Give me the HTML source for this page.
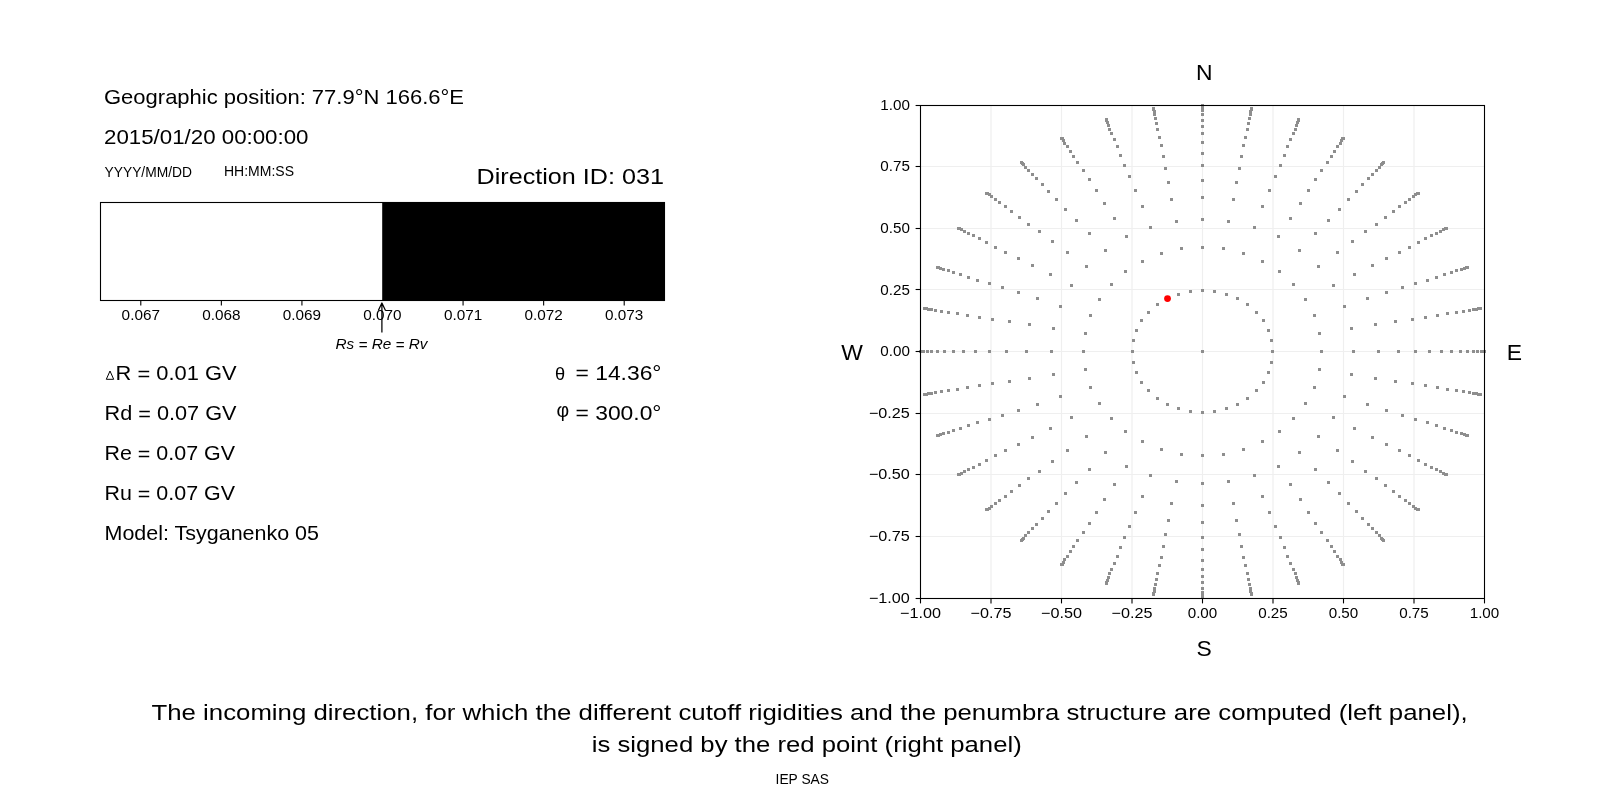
<!DOCTYPE html>
<html><head><meta charset="utf-8"><title>Direction</title>
<style>
html,body{margin:0;padding:0;background:#fff;width:1600px;height:800px;overflow:hidden}
svg{display:block;will-change:transform}
text{font-family:"Liberation Sans", sans-serif;fill:#000}
</style></head><body>
<svg width="1600" height="800" viewBox="0 0 1600 800">
<rect x="0" y="0" width="1600" height="800" fill="#fff"/>
<rect x="382.20" y="202.50" width="282.30" height="98.00" fill="#000"/>
<rect x="100.50" y="202.50" width="564.00" height="98.00" fill="none" stroke="#000" stroke-width="1.1"/>
<line x1="140.79" y1="300.50" x2="140.79" y2="305.40" stroke="#000" stroke-width="1.1"/>
<line x1="221.36" y1="300.50" x2="221.36" y2="305.40" stroke="#000" stroke-width="1.1"/>
<line x1="301.93" y1="300.50" x2="301.93" y2="305.40" stroke="#000" stroke-width="1.1"/>
<line x1="463.07" y1="300.50" x2="463.07" y2="305.40" stroke="#000" stroke-width="1.1"/>
<line x1="543.64" y1="300.50" x2="543.64" y2="305.40" stroke="#000" stroke-width="1.1"/>
<line x1="624.21" y1="300.50" x2="624.21" y2="305.40" stroke="#000" stroke-width="1.1"/>
<path d="M381.9 332.6 L381.9 303.0 M378.3 310.4 L381.9 303.0 L385.5 310.4" fill="none" stroke="#000" stroke-width="1.25" stroke-linejoin="round" stroke-linecap="butt"/>
<path d="M106.3 379.3 L110.0 371.0 L113.7 379.3 Z" fill="none" stroke="#000" stroke-width="1.0"/>
<text x="555.0" y="380.0" font-family="Liberation Serif, serif" font-size="18.2" fill="#000">θ</text>
<text x="556.5" y="416.5" font-family="Liberation Serif, serif" font-size="19.5" fill="#000">φ</text>
<line x1="991.00" y1="105.50" x2="991.00" y2="598.50" stroke="#efefef" stroke-width="1.2"/>
<line x1="920.50" y1="536.50" x2="1484.50" y2="536.50" stroke="#efefef" stroke-width="1.2"/>
<line x1="1061.50" y1="105.50" x2="1061.50" y2="598.50" stroke="#efefef" stroke-width="1.2"/>
<line x1="920.50" y1="474.50" x2="1484.50" y2="474.50" stroke="#efefef" stroke-width="1.2"/>
<line x1="1132.00" y1="105.50" x2="1132.00" y2="598.50" stroke="#efefef" stroke-width="1.2"/>
<line x1="920.50" y1="413.50" x2="1484.50" y2="413.50" stroke="#efefef" stroke-width="1.2"/>
<line x1="1202.50" y1="105.50" x2="1202.50" y2="598.50" stroke="#efefef" stroke-width="1.2"/>
<line x1="920.50" y1="351.50" x2="1484.50" y2="351.50" stroke="#efefef" stroke-width="1.2"/>
<line x1="1273.00" y1="105.50" x2="1273.00" y2="598.50" stroke="#efefef" stroke-width="1.2"/>
<line x1="920.50" y1="289.50" x2="1484.50" y2="289.50" stroke="#efefef" stroke-width="1.2"/>
<line x1="1343.50" y1="105.50" x2="1343.50" y2="598.50" stroke="#efefef" stroke-width="1.2"/>
<line x1="920.50" y1="228.50" x2="1484.50" y2="228.50" stroke="#efefef" stroke-width="1.2"/>
<line x1="1414.00" y1="105.50" x2="1414.00" y2="598.50" stroke="#efefef" stroke-width="1.2"/>
<line x1="920.50" y1="166.50" x2="1484.50" y2="166.50" stroke="#efefef" stroke-width="1.2"/>
<path d="M1201 350h3v3h-3zM1483 350h3v3h-3zM1479 307h3v3h-3zM1466 266h3v3h-3zM1445 227h3v3h-3zM1417 192h3v3h-3zM1382 161h3v3h-3zM1342 137h3v3h-3zM1297 118h3v3h-3zM1250 107h3v3h-3zM1201 104h3v3h-3zM1152 107h3v3h-3zM1105 118h3v3h-3zM1060 137h3v3h-3zM1020 161h3v3h-3zM985 192h3v3h-3zM957 227h3v3h-3zM936 266h3v3h-3zM923 307h3v3h-3zM919 350h3v3h-3zM923 393h3v3h-3zM936 434h3v3h-3zM957 473h3v3h-3zM985 508h3v3h-3zM1020 539h3v3h-3zM1060 563h3v3h-3zM1105 582h3v3h-3zM1152 593h3v3h-3zM1201 596h3v3h-3zM1250 593h3v3h-3zM1297 582h3v3h-3zM1342 563h3v3h-3zM1382 539h3v3h-3zM1417 508h3v3h-3zM1445 473h3v3h-3zM1466 434h3v3h-3zM1479 393h3v3h-3zM1482 350h3v3h-3zM1477 307h3v3h-3zM1465 266h3v3h-3zM1444 227h3v3h-3zM1416 192h3v3h-3zM1381 162h3v3h-3zM1341 137h3v3h-3zM1297 119h3v3h-3zM1250 108h3v3h-3zM1201 105h3v3h-3zM1152 108h3v3h-3zM1105 119h3v3h-3zM1061 137h3v3h-3zM1021 162h3v3h-3zM986 192h3v3h-3zM958 227h3v3h-3zM937 266h3v3h-3zM925 307h3v3h-3zM920 350h3v3h-3zM925 393h3v3h-3zM937 434h3v3h-3zM958 473h3v3h-3zM986 508h3v3h-3zM1021 538h3v3h-3zM1061 563h3v3h-3zM1105 581h3v3h-3zM1152 592h3v3h-3zM1201 595h3v3h-3zM1250 592h3v3h-3zM1297 581h3v3h-3zM1341 563h3v3h-3zM1381 538h3v3h-3zM1416 508h3v3h-3zM1444 473h3v3h-3zM1465 434h3v3h-3zM1477 393h3v3h-3zM1480 350h3v3h-3zM1475 308h3v3h-3zM1463 267h3v3h-3zM1442 228h3v3h-3zM1414 193h3v3h-3zM1380 163h3v3h-3zM1340 139h3v3h-3zM1296 121h3v3h-3zM1249 110h3v3h-3zM1201 107h3v3h-3zM1153 110h3v3h-3zM1106 121h3v3h-3zM1062 139h3v3h-3zM1022 163h3v3h-3zM988 193h3v3h-3zM960 228h3v3h-3zM939 267h3v3h-3zM927 308h3v3h-3zM922 350h3v3h-3zM927 392h3v3h-3zM939 433h3v3h-3zM960 472h3v3h-3zM988 507h3v3h-3zM1022 537h3v3h-3zM1062 561h3v3h-3zM1106 579h3v3h-3zM1153 590h3v3h-3zM1201 593h3v3h-3zM1249 590h3v3h-3zM1296 579h3v3h-3zM1340 561h3v3h-3zM1380 537h3v3h-3zM1414 507h3v3h-3zM1442 472h3v3h-3zM1463 433h3v3h-3zM1475 392h3v3h-3zM1476 350h3v3h-3zM1472 308h3v3h-3zM1460 268h3v3h-3zM1439 230h3v3h-3zM1412 195h3v3h-3zM1378 166h3v3h-3zM1339 142h3v3h-3zM1295 124h3v3h-3zM1249 113h3v3h-3zM1201 109h3v3h-3zM1153 113h3v3h-3zM1107 124h3v3h-3zM1063 142h3v3h-3zM1024 166h3v3h-3zM990 195h3v3h-3zM963 230h3v3h-3zM942 268h3v3h-3zM930 308h3v3h-3zM926 350h3v3h-3zM930 392h3v3h-3zM942 432h3v3h-3zM963 470h3v3h-3zM990 505h3v3h-3zM1024 534h3v3h-3zM1063 558h3v3h-3zM1107 576h3v3h-3zM1153 587h3v3h-3zM1201 591h3v3h-3zM1249 587h3v3h-3zM1295 576h3v3h-3zM1339 558h3v3h-3zM1378 534h3v3h-3zM1412 505h3v3h-3zM1439 470h3v3h-3zM1460 432h3v3h-3zM1472 392h3v3h-3zM1472 350h3v3h-3zM1468 309h3v3h-3zM1455 269h3v3h-3zM1435 232h3v3h-3zM1408 198h3v3h-3zM1375 169h3v3h-3zM1336 145h3v3h-3zM1294 128h3v3h-3zM1248 117h3v3h-3zM1201 113h3v3h-3zM1154 117h3v3h-3zM1108 128h3v3h-3zM1066 145h3v3h-3zM1027 169h3v3h-3zM994 198h3v3h-3zM967 232h3v3h-3zM947 269h3v3h-3zM934 309h3v3h-3zM930 350h3v3h-3zM934 391h3v3h-3zM947 431h3v3h-3zM967 468h3v3h-3zM994 502h3v3h-3zM1027 531h3v3h-3zM1066 555h3v3h-3zM1108 572h3v3h-3zM1154 583h3v3h-3zM1201 587h3v3h-3zM1248 583h3v3h-3zM1294 572h3v3h-3zM1336 555h3v3h-3zM1375 531h3v3h-3zM1408 502h3v3h-3zM1435 468h3v3h-3zM1455 431h3v3h-3zM1468 391h3v3h-3zM1466 350h3v3h-3zM1462 310h3v3h-3zM1450 271h3v3h-3zM1430 234h3v3h-3zM1404 201h3v3h-3zM1371 173h3v3h-3zM1333 150h3v3h-3zM1292 132h3v3h-3zM1247 122h3v3h-3zM1201 119h3v3h-3zM1155 122h3v3h-3zM1110 132h3v3h-3zM1069 150h3v3h-3zM1031 173h3v3h-3zM998 201h3v3h-3zM972 234h3v3h-3zM952 271h3v3h-3zM940 310h3v3h-3zM936 350h3v3h-3zM940 390h3v3h-3zM952 429h3v3h-3zM972 466h3v3h-3zM998 499h3v3h-3zM1031 527h3v3h-3zM1069 550h3v3h-3zM1110 568h3v3h-3zM1155 578h3v3h-3zM1201 581h3v3h-3zM1247 578h3v3h-3zM1292 568h3v3h-3zM1333 550h3v3h-3zM1371 527h3v3h-3zM1404 499h3v3h-3zM1430 466h3v3h-3zM1450 429h3v3h-3zM1462 390h3v3h-3zM1459 350h3v3h-3zM1455 311h3v3h-3zM1443 273h3v3h-3zM1424 237h3v3h-3zM1398 205h3v3h-3zM1367 177h3v3h-3zM1330 155h3v3h-3zM1289 138h3v3h-3zM1246 128h3v3h-3zM1201 125h3v3h-3zM1156 128h3v3h-3zM1113 138h3v3h-3zM1072 155h3v3h-3zM1035 177h3v3h-3zM1004 205h3v3h-3zM978 237h3v3h-3zM959 273h3v3h-3zM947 311h3v3h-3zM943 350h3v3h-3zM947 389h3v3h-3zM959 427h3v3h-3zM978 463h3v3h-3zM1004 495h3v3h-3zM1035 523h3v3h-3zM1072 545h3v3h-3zM1113 562h3v3h-3zM1156 572h3v3h-3zM1201 575h3v3h-3zM1246 572h3v3h-3zM1289 562h3v3h-3zM1330 545h3v3h-3zM1367 523h3v3h-3zM1398 495h3v3h-3zM1424 463h3v3h-3zM1443 427h3v3h-3zM1455 389h3v3h-3zM1450 350h3v3h-3zM1446 312h3v3h-3zM1435 276h3v3h-3zM1417 241h3v3h-3zM1392 210h3v3h-3zM1361 183h3v3h-3zM1326 161h3v3h-3zM1286 145h3v3h-3zM1244 136h3v3h-3zM1201 132h3v3h-3zM1158 136h3v3h-3zM1116 145h3v3h-3zM1076 161h3v3h-3zM1041 183h3v3h-3zM1010 210h3v3h-3zM985 241h3v3h-3zM967 276h3v3h-3zM956 312h3v3h-3zM952 350h3v3h-3zM956 388h3v3h-3zM967 424h3v3h-3zM985 459h3v3h-3zM1010 490h3v3h-3zM1041 517h3v3h-3zM1076 539h3v3h-3zM1116 555h3v3h-3zM1158 564h3v3h-3zM1201 568h3v3h-3zM1244 564h3v3h-3zM1286 555h3v3h-3zM1326 539h3v3h-3zM1361 517h3v3h-3zM1392 490h3v3h-3zM1417 459h3v3h-3zM1435 424h3v3h-3zM1446 388h3v3h-3zM1440 350h3v3h-3zM1436 314h3v3h-3zM1426 279h3v3h-3zM1408 246h3v3h-3zM1384 216h3v3h-3zM1355 190h3v3h-3zM1320 169h3v3h-3zM1283 154h3v3h-3zM1242 144h3v3h-3zM1201 141h3v3h-3zM1160 144h3v3h-3zM1119 154h3v3h-3zM1082 169h3v3h-3zM1047 190h3v3h-3zM1018 216h3v3h-3zM994 246h3v3h-3zM976 279h3v3h-3zM966 314h3v3h-3zM962 350h3v3h-3zM966 386h3v3h-3zM976 421h3v3h-3zM994 454h3v3h-3zM1018 484h3v3h-3zM1047 510h3v3h-3zM1082 531h3v3h-3zM1119 546h3v3h-3zM1160 556h3v3h-3zM1201 559h3v3h-3zM1242 556h3v3h-3zM1283 546h3v3h-3zM1320 531h3v3h-3zM1355 510h3v3h-3zM1384 484h3v3h-3zM1408 454h3v3h-3zM1426 421h3v3h-3zM1436 386h3v3h-3zM1428 350h3v3h-3zM1424 316h3v3h-3zM1414 282h3v3h-3zM1398 251h3v3h-3zM1375 223h3v3h-3zM1347 198h3v3h-3zM1314 178h3v3h-3zM1279 164h3v3h-3zM1240 155h3v3h-3zM1201 152h3v3h-3zM1162 155h3v3h-3zM1123 164h3v3h-3zM1088 178h3v3h-3zM1055 198h3v3h-3zM1027 223h3v3h-3zM1004 251h3v3h-3zM988 282h3v3h-3zM978 316h3v3h-3zM974 350h3v3h-3zM978 384h3v3h-3zM988 418h3v3h-3zM1004 449h3v3h-3zM1027 477h3v3h-3zM1055 502h3v3h-3zM1088 522h3v3h-3zM1123 536h3v3h-3zM1162 545h3v3h-3zM1201 548h3v3h-3zM1240 545h3v3h-3zM1279 536h3v3h-3zM1314 522h3v3h-3zM1347 502h3v3h-3zM1375 477h3v3h-3zM1398 449h3v3h-3zM1414 418h3v3h-3zM1424 384h3v3h-3zM1414 350h3v3h-3zM1411 318h3v3h-3zM1401 286h3v3h-3zM1385 257h3v3h-3zM1364 230h3v3h-3zM1338 208h3v3h-3zM1307 189h3v3h-3zM1274 175h3v3h-3zM1238 167h3v3h-3zM1201 164h3v3h-3zM1164 167h3v3h-3zM1128 175h3v3h-3zM1095 189h3v3h-3zM1064 208h3v3h-3zM1038 230h3v3h-3zM1017 257h3v3h-3zM1001 286h3v3h-3zM991 318h3v3h-3zM988 350h3v3h-3zM991 382h3v3h-3zM1001 414h3v3h-3zM1017 443h3v3h-3zM1038 470h3v3h-3zM1064 492h3v3h-3zM1095 511h3v3h-3zM1128 525h3v3h-3zM1164 533h3v3h-3zM1201 536h3v3h-3zM1238 533h3v3h-3zM1274 525h3v3h-3zM1307 511h3v3h-3zM1338 492h3v3h-3zM1364 470h3v3h-3zM1385 443h3v3h-3zM1401 414h3v3h-3zM1411 382h3v3h-3zM1397 350h3v3h-3zM1394 320h3v3h-3zM1385 291h3v3h-3zM1371 264h3v3h-3zM1351 240h3v3h-3zM1327 219h3v3h-3zM1299 202h3v3h-3zM1268 189h3v3h-3zM1235 181h3v3h-3zM1201 179h3v3h-3zM1167 181h3v3h-3zM1134 189h3v3h-3zM1103 202h3v3h-3zM1075 219h3v3h-3zM1051 240h3v3h-3zM1031 264h3v3h-3zM1017 291h3v3h-3zM1008 320h3v3h-3zM1005 350h3v3h-3zM1008 380h3v3h-3zM1017 409h3v3h-3zM1031 436h3v3h-3zM1051 460h3v3h-3zM1075 481h3v3h-3zM1103 498h3v3h-3zM1134 511h3v3h-3zM1167 519h3v3h-3zM1201 521h3v3h-3zM1235 519h3v3h-3zM1268 511h3v3h-3zM1299 498h3v3h-3zM1327 481h3v3h-3zM1351 460h3v3h-3zM1371 436h3v3h-3zM1385 409h3v3h-3zM1394 380h3v3h-3zM1377 350h3v3h-3zM1374 323h3v3h-3zM1366 297h3v3h-3zM1353 273h3v3h-3zM1336 251h3v3h-3zM1314 232h3v3h-3zM1289 217h3v3h-3zM1261 205h3v3h-3zM1232 198h3v3h-3zM1201 196h3v3h-3zM1170 198h3v3h-3zM1141 205h3v3h-3zM1113 217h3v3h-3zM1088 232h3v3h-3zM1066 251h3v3h-3zM1049 273h3v3h-3zM1036 297h3v3h-3zM1028 323h3v3h-3zM1025 350h3v3h-3zM1028 377h3v3h-3zM1036 403h3v3h-3zM1049 427h3v3h-3zM1066 449h3v3h-3zM1088 468h3v3h-3zM1113 483h3v3h-3zM1141 495h3v3h-3zM1170 502h3v3h-3zM1201 504h3v3h-3zM1232 502h3v3h-3zM1261 495h3v3h-3zM1289 483h3v3h-3zM1314 468h3v3h-3zM1336 449h3v3h-3zM1353 427h3v3h-3zM1366 403h3v3h-3zM1374 377h3v3h-3zM1352 350h3v3h-3zM1350 327h3v3h-3zM1343 305h3v3h-3zM1332 284h3v3h-3zM1317 265h3v3h-3zM1298 249h3v3h-3zM1277 235h3v3h-3zM1253 226h3v3h-3zM1227 220h3v3h-3zM1201 218h3v3h-3zM1175 220h3v3h-3zM1149 226h3v3h-3zM1125 235h3v3h-3zM1104 249h3v3h-3zM1085 265h3v3h-3zM1070 284h3v3h-3zM1059 305h3v3h-3zM1052 327h3v3h-3zM1050 350h3v3h-3zM1052 373h3v3h-3zM1059 395h3v3h-3zM1070 416h3v3h-3zM1085 435h3v3h-3zM1104 451h3v3h-3zM1125 465h3v3h-3zM1149 474h3v3h-3zM1175 480h3v3h-3zM1201 482h3v3h-3zM1227 480h3v3h-3zM1253 474h3v3h-3zM1277 465h3v3h-3zM1298 451h3v3h-3zM1317 435h3v3h-3zM1332 416h3v3h-3zM1343 395h3v3h-3zM1350 373h3v3h-3zM1320 350h3v3h-3zM1318 332h3v3h-3zM1313 314h3v3h-3zM1304 298h3v3h-3zM1292 283h3v3h-3zM1278 270h3v3h-3zM1261 260h3v3h-3zM1242 252h3v3h-3zM1222 247h3v3h-3zM1201 246h3v3h-3zM1180 247h3v3h-3zM1160 252h3v3h-3zM1141 260h3v3h-3zM1124 270h3v3h-3zM1110 283h3v3h-3zM1098 298h3v3h-3zM1089 314h3v3h-3zM1084 332h3v3h-3zM1082 350h3v3h-3zM1084 368h3v3h-3zM1089 386h3v3h-3zM1098 402h3v3h-3zM1110 417h3v3h-3zM1124 430h3v3h-3zM1141 440h3v3h-3zM1160 448h3v3h-3zM1180 453h3v3h-3zM1201 454h3v3h-3zM1222 453h3v3h-3zM1242 448h3v3h-3zM1261 440h3v3h-3zM1278 430h3v3h-3zM1292 417h3v3h-3zM1304 402h3v3h-3zM1313 386h3v3h-3zM1318 368h3v3h-3zM1271 350h3v3h-3zM1270 339h3v3h-3zM1267 329h3v3h-3zM1262 319h3v3h-3zM1255 311h3v3h-3zM1246 303h3v3h-3zM1236 297h3v3h-3zM1225 293h3v3h-3zM1213 290h3v3h-3zM1201 289h3v3h-3zM1189 290h3v3h-3zM1177 293h3v3h-3zM1166 297h3v3h-3zM1156 303h3v3h-3zM1147 311h3v3h-3zM1140 319h3v3h-3zM1135 329h3v3h-3zM1132 339h3v3h-3zM1131 350h3v3h-3zM1132 361h3v3h-3zM1135 371h3v3h-3zM1140 381h3v3h-3zM1147 389h3v3h-3zM1156 397h3v3h-3zM1166 403h3v3h-3zM1177 407h3v3h-3zM1189 410h3v3h-3zM1201 411h3v3h-3zM1213 410h3v3h-3zM1225 407h3v3h-3zM1236 403h3v3h-3zM1246 397h3v3h-3zM1255 389h3v3h-3zM1262 381h3v3h-3zM1267 371h3v3h-3zM1270 361h3v3h-3z" fill="#8e8e8e"/>
<circle cx="1167.53" cy="298.55" r="3.4" fill="#ff0000"/>
<rect x="920.50" y="105.50" width="564.00" height="493.00" fill="none" stroke="#000" stroke-width="1.1"/>
<line x1="915.60" y1="598.50" x2="920.50" y2="598.50" stroke="#000" stroke-width="1.1"/>
<line x1="920.50" y1="598.50" x2="920.50" y2="603.40" stroke="#000" stroke-width="1.1"/>
<line x1="915.60" y1="536.50" x2="920.50" y2="536.50" stroke="#000" stroke-width="1.1"/>
<line x1="991.00" y1="598.50" x2="991.00" y2="603.40" stroke="#000" stroke-width="1.1"/>
<line x1="915.60" y1="474.50" x2="920.50" y2="474.50" stroke="#000" stroke-width="1.1"/>
<line x1="1061.50" y1="598.50" x2="1061.50" y2="603.40" stroke="#000" stroke-width="1.1"/>
<line x1="915.60" y1="413.50" x2="920.50" y2="413.50" stroke="#000" stroke-width="1.1"/>
<line x1="1132.00" y1="598.50" x2="1132.00" y2="603.40" stroke="#000" stroke-width="1.1"/>
<line x1="915.60" y1="351.50" x2="920.50" y2="351.50" stroke="#000" stroke-width="1.1"/>
<line x1="1202.50" y1="598.50" x2="1202.50" y2="603.40" stroke="#000" stroke-width="1.1"/>
<line x1="915.60" y1="289.50" x2="920.50" y2="289.50" stroke="#000" stroke-width="1.1"/>
<line x1="1273.00" y1="598.50" x2="1273.00" y2="603.40" stroke="#000" stroke-width="1.1"/>
<line x1="915.60" y1="228.50" x2="920.50" y2="228.50" stroke="#000" stroke-width="1.1"/>
<line x1="1343.50" y1="598.50" x2="1343.50" y2="603.40" stroke="#000" stroke-width="1.1"/>
<line x1="915.60" y1="166.50" x2="920.50" y2="166.50" stroke="#000" stroke-width="1.1"/>
<line x1="1414.00" y1="598.50" x2="1414.00" y2="603.40" stroke="#000" stroke-width="1.1"/>
<line x1="915.60" y1="105.50" x2="920.50" y2="105.50" stroke="#000" stroke-width="1.1"/>
<line x1="1484.50" y1="598.50" x2="1484.50" y2="603.40" stroke="#000" stroke-width="1.1"/>
<text x="104.00" y="104.00" font-size="20.60" text-anchor="start" textLength="360.00" lengthAdjust="spacingAndGlyphs">Geographic position: 77.9°N 166.6°E</text>
<text x="104.00" y="143.70" font-size="20.60" text-anchor="start" textLength="204.50" lengthAdjust="spacingAndGlyphs">2015/01/20 00:00:00</text>
<text x="104.50" y="176.90" font-size="14.70" text-anchor="start" textLength="87.50" lengthAdjust="spacingAndGlyphs">YYYY/MM/DD</text>
<text x="224.00" y="176.00" font-size="14.70" text-anchor="start" textLength="70.00" lengthAdjust="spacingAndGlyphs">HH:MM:SS</text>
<text x="476.50" y="183.75" font-size="22.60" text-anchor="start" textLength="187.50" lengthAdjust="spacingAndGlyphs">Direction ID: 031</text>
<text x="140.79" y="319.70" font-size="14.70" text-anchor="middle" textLength="38.30" lengthAdjust="spacingAndGlyphs">0.067</text>
<text x="221.36" y="319.70" font-size="14.70" text-anchor="middle" textLength="38.30" lengthAdjust="spacingAndGlyphs">0.068</text>
<text x="301.93" y="319.70" font-size="14.70" text-anchor="middle" textLength="38.30" lengthAdjust="spacingAndGlyphs">0.069</text>
<text x="382.50" y="319.70" font-size="14.70" text-anchor="middle" textLength="38.30" lengthAdjust="spacingAndGlyphs">0.070</text>
<text x="463.07" y="319.70" font-size="14.70" text-anchor="middle" textLength="38.30" lengthAdjust="spacingAndGlyphs">0.071</text>
<text x="543.64" y="319.70" font-size="14.70" text-anchor="middle" textLength="38.30" lengthAdjust="spacingAndGlyphs">0.072</text>
<text x="624.21" y="319.70" font-size="14.70" text-anchor="middle" textLength="38.30" lengthAdjust="spacingAndGlyphs">0.073</text>
<text x="381.50" y="348.70" font-size="14.70" text-anchor="middle" textLength="92.00" lengthAdjust="spacingAndGlyphs" style="font-style:italic">Rs <tspan dy="0.8">=</tspan><tspan dy="-0.8"> Re</tspan> <tspan dy="0.8">=</tspan><tspan dy="-0.8"> Rv</tspan></text>
<text x="115.60" y="380.00" font-size="20.60" text-anchor="start" textLength="120.90" lengthAdjust="spacingAndGlyphs">R <tspan dy="1.3">=</tspan><tspan dy="-1.3"> 0.01 GV</tspan></text>
<text x="104.50" y="420.00" font-size="20.60" text-anchor="start" textLength="132.00" lengthAdjust="spacingAndGlyphs">Rd <tspan dy="1.3">=</tspan><tspan dy="-1.3"> 0.07 GV</tspan></text>
<text x="104.50" y="460.00" font-size="20.60" text-anchor="start" textLength="130.50" lengthAdjust="spacingAndGlyphs">Re <tspan dy="1.3">=</tspan><tspan dy="-1.3"> 0.07 GV</tspan></text>
<text x="104.50" y="500.00" font-size="20.60" text-anchor="start" textLength="130.50" lengthAdjust="spacingAndGlyphs">Ru <tspan dy="1.3">=</tspan><tspan dy="-1.3"> 0.07 GV</tspan></text>
<text x="104.50" y="540.00" font-size="20.60" text-anchor="start" textLength="214.50" lengthAdjust="spacingAndGlyphs">Model: Tsyganenko 05</text>
<text x="661.50" y="380.00" font-size="20.60" text-anchor="end" textLength="86.00" lengthAdjust="spacingAndGlyphs">= 14.36°</text>
<text x="661.50" y="420.00" font-size="20.60" text-anchor="end" textLength="86.00" lengthAdjust="spacingAndGlyphs">= 300.0°</text>
<text x="1204.20" y="79.70" font-size="22.90" text-anchor="middle">N</text>
<text x="1204.20" y="655.50" font-size="22.90" text-anchor="middle">S</text>
<text x="852.00" y="359.70" font-size="22.90" text-anchor="middle">W</text>
<text x="1514.30" y="359.70" font-size="22.90" text-anchor="middle">E</text>
<text x="151.50" y="719.90" font-size="22.90" text-anchor="start" textLength="1316.20" lengthAdjust="spacingAndGlyphs">The incoming direction, for which the different cutoff rigidities and the penumbra structure are computed (left panel),</text>
<text x="591.80" y="751.90" font-size="22.90" text-anchor="start" textLength="429.90" lengthAdjust="spacingAndGlyphs">is signed by the red point (right panel)</text>
<text x="775.60" y="784.00" font-size="14.70" text-anchor="start" textLength="53.40" lengthAdjust="spacingAndGlyphs">IEP SAS</text>
<text x="909.90" y="602.70" font-size="14.70" text-anchor="end" textLength="41.00" lengthAdjust="spacingAndGlyphs">−1.00</text>
<text x="920.50" y="618.00" font-size="14.70" text-anchor="middle" textLength="41.00" lengthAdjust="spacingAndGlyphs">−1.00</text>
<text x="909.90" y="541.08" font-size="14.70" text-anchor="end" textLength="41.00" lengthAdjust="spacingAndGlyphs">−0.75</text>
<text x="991.00" y="618.00" font-size="14.70" text-anchor="middle" textLength="41.00" lengthAdjust="spacingAndGlyphs">−0.75</text>
<text x="909.90" y="479.45" font-size="14.70" text-anchor="end" textLength="41.00" lengthAdjust="spacingAndGlyphs">−0.50</text>
<text x="1061.50" y="618.00" font-size="14.70" text-anchor="middle" textLength="41.00" lengthAdjust="spacingAndGlyphs">−0.50</text>
<text x="909.90" y="417.82" font-size="14.70" text-anchor="end" textLength="41.00" lengthAdjust="spacingAndGlyphs">−0.25</text>
<text x="1132.00" y="618.00" font-size="14.70" text-anchor="middle" textLength="41.00" lengthAdjust="spacingAndGlyphs">−0.25</text>
<text x="909.90" y="356.20" font-size="14.70" text-anchor="end" textLength="29.60" lengthAdjust="spacingAndGlyphs">0.00</text>
<text x="1202.50" y="618.00" font-size="14.70" text-anchor="middle" textLength="29.60" lengthAdjust="spacingAndGlyphs">0.00</text>
<text x="909.90" y="294.57" font-size="14.70" text-anchor="end" textLength="29.60" lengthAdjust="spacingAndGlyphs">0.25</text>
<text x="1273.00" y="618.00" font-size="14.70" text-anchor="middle" textLength="29.60" lengthAdjust="spacingAndGlyphs">0.25</text>
<text x="909.90" y="232.95" font-size="14.70" text-anchor="end" textLength="29.60" lengthAdjust="spacingAndGlyphs">0.50</text>
<text x="1343.50" y="618.00" font-size="14.70" text-anchor="middle" textLength="29.60" lengthAdjust="spacingAndGlyphs">0.50</text>
<text x="909.90" y="171.32" font-size="14.70" text-anchor="end" textLength="29.60" lengthAdjust="spacingAndGlyphs">0.75</text>
<text x="1414.00" y="618.00" font-size="14.70" text-anchor="middle" textLength="29.60" lengthAdjust="spacingAndGlyphs">0.75</text>
<text x="909.90" y="109.70" font-size="14.70" text-anchor="end" textLength="29.60" lengthAdjust="spacingAndGlyphs">1.00</text>
<text x="1484.50" y="618.00" font-size="14.70" text-anchor="middle" textLength="29.60" lengthAdjust="spacingAndGlyphs">1.00</text>
</svg>
</body></html>
